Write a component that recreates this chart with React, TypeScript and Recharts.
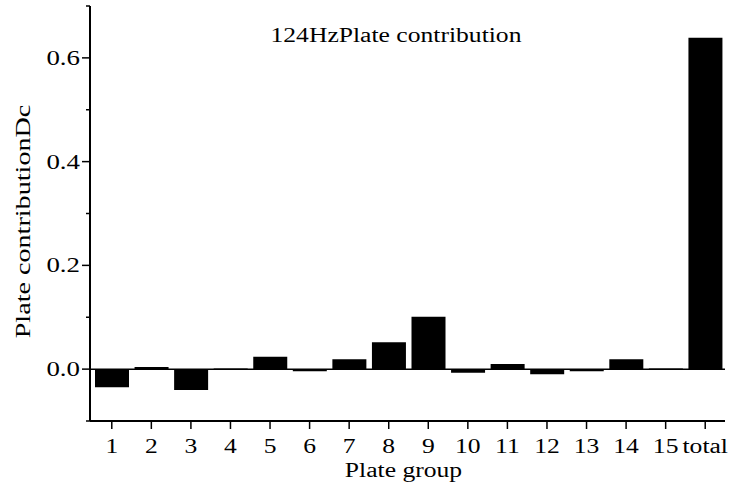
import React from 'react';
import { BarChart, Bar, XAxis, YAxis, ReferenceLine } from 'recharts';

// Plate groups along the x axis
const groups = ['1', '2', '3', '4', '5', '6', '7', '8', '9', '10', '11', '12', '13', '14', '15', 'total'];
// Contribution Dc for each plate group at 124 Hz
const contribution = [-0.035, 0.004, -0.04, 0.001, 0.024, -0.004, 0.019, 0.052, 0.101, -0.007, 0.01, -0.01, -0.004, 0.019, 0.001, 0.639];
const yTicks = [-0.1, 0, 0.1, 0.2, 0.3, 0.4, 0.5, 0.6, 0.7];
const labelledTicks = [0, 0.2, 0.4, 0.6];

const data = groups.map((g, i) => ({ group: g, dc: contribution[i] }));

const FONT = '"Liberation Serif", "Times New Roman", serif';
const STRETCH = 1.28;

const StretchText = ({ x, y, size, anchor = 'middle', rotate = 0, children }: any) => (
  <text
    transform={`translate(${x},${y}) rotate(${rotate}) scale(${STRETCH},1)`}
    textAnchor={anchor}
    fontFamily={FONT}
    fontSize={size}
    fill="#000"
  >
    {children}
  </text>
);

const YTick = (props: any) => {
  const { x, y, payload } = props;
  const v = payload.value;
  const major = labelledTicks.some((t) => Math.abs(t - v) < 1e-9);
  return (
    <g>
      <line x1={x + (major ? 2 : 6)} x2={x + 10} y1={y} y2={y} stroke="#000" strokeWidth={1.5} />
      {major && (
        <StretchText x={x} y={y + 7} size={21} anchor="end">
          {v.toFixed(1)}
        </StretchText>
      )}
    </g>
  );
};

const XTick = (props: any) => {
  const { x, y, payload } = props;
  return (
    <StretchText x={x} y={y + 22} size={20}>
      {payload.value}
    </StretchText>
  );
};

export default function App() {
  return (
    <div style={{ position: 'absolute', left: 0, top: 0, width: 732, height: 486, background: '#fff' }}>
      <BarChart width={732} height={486} data={data} margin={{ top: 6, right: 7, bottom: 0, left: 0 }}>
        <XAxis
          dataKey="group"
          height={65}
          interval={0}
          padding={{ left: 2, right: 0 }}
          tickSize={8}
          tickMargin={2}
          axisLine={{ stroke: '#000', strokeWidth: 2 }}
          tickLine={{ stroke: '#000', strokeWidth: 1.5 }}
          tick={<XTick />}
          label={{
            value: 'Plate group',
            content: (p: any) => (
              <StretchText x={p.viewBox.x + p.viewBox.width / 2 - 4} y={p.viewBox.y + 56} size={20}>
                Plate group
              </StretchText>
            ),
          }}
        />
        <YAxis
          width={90}
          domain={[-0.1, 0.7]}
          ticks={yTicks}
          interval={0}
          tickSize={8}
          tickMargin={2}
          axisLine={{ stroke: '#000', strokeWidth: 2 }}
          tickLine={false}
          tick={<YTick />}
          label={{
            value: 'Plate contributionDc',
            content: (p: any) => (
              <StretchText x={30} y={p.viewBox.y + p.viewBox.height / 2 + 8} size={22} rotate={-90}>
                Plate contributionDc
              </StretchText>
            ),
          }}
        />
        <ReferenceLine y={0} stroke="#000" strokeWidth={1.5} />
        <Bar dataKey="dc" fill="#000" barSize={34} isAnimationActive={false} />
      </BarChart>
      <svg width={732} height={486} style={{ position: 'absolute', left: 0, top: 0, pointerEvents: 'none' }}>
        <StretchText x={396} y={42} size={20}>
          124HzPlate contribution
        </StretchText>
      </svg>
    </div>
  );
}
